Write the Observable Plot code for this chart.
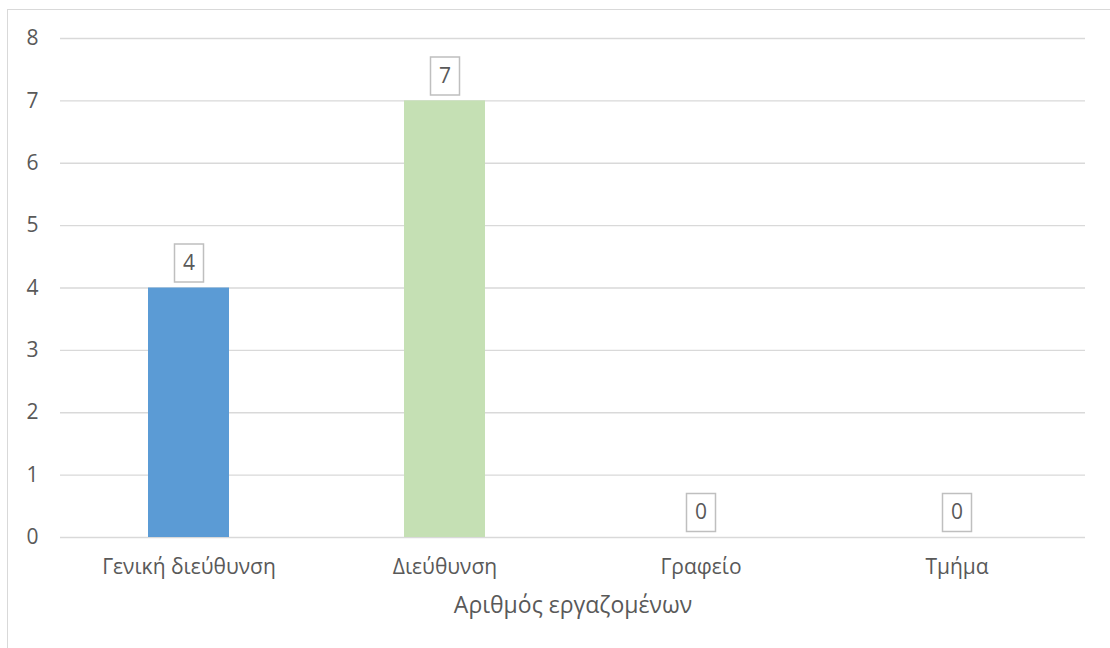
<!DOCTYPE html>
<html>
<head>
<meta charset="utf-8">
<script src="https://cdn.jsdelivr.net/npm/d3@7"></script>
<script src="https://cdn.jsdelivr.net/npm/@observablehq/plot@0.6"></script>
<style>
  html, body { margin: 0; padding: 0; background: #fff; overflow: hidden; }
  #wrap { position: relative; width: 1110px; height: 648px; }
  #frame { position: absolute; left: 7px; top: 9px; width: 1200px; height: 800px; border: 1px solid #d9d9d9; box-sizing: border-box; }
  #chart { position: absolute; left: 0; top: 0; }
</style>
</head>
<body>
<div id="wrap"><div id="frame"></div><div id="chart"></div></div>
<script>
// Employees per organisational level
const categories = ["Γενική διεύθυνση", "Διεύθυνση", "Γραφείο", "Τμήμα"];
const counts = [4, 7, 0, 0];
const barColors = ["#5b9bd5", "#c5e0b4", "#a5a5a5", "#ffc000"];
const yTicks = [0, 1, 2, 3, 4, 5, 6, 7, 8];
const axisTitle = "Αριθμός εργαζομένων";

const data = categories.map((c, i) => ({category: c, value: counts[i], color: barColors[i]}));

// Rectangle outline drawn behind each value label
const labelBox = {
  draw(context) {
    const w = 29, h = 38;
    context.rect(-w / 2, -h / 2, w, h);
  }
};

const textColor = "#595959";
const font = "Open Sans, Noto Sans, sans-serif";

const chart = Plot.plot({
  width: 1110,
  height: 648,
  marginLeft: 60,
  marginRight: 25,
  marginTop: 38,
  marginBottom: 111,
  style: {fontFamily: font, fontSize: "21px", color: textColor, background: "transparent"},
  x: {domain: categories, paddingInner: 0.684, paddingOuter: 0.342},
  y: {domain: [0, 8]},
  marks: [
    Plot.gridY(yTicks, {stroke: "#d9d9d9", strokeOpacity: 1, strokeWidth: 1.3}),
    Plot.barY(data, {x: "category", y: "value", fill: "color"}),
    Plot.dot(data, {x: "category", y: "value", dy: -25, symbol: labelBox, r: 10, fill: "white", stroke: "#bfbfbf", strokeWidth: 1.5}),
    Plot.text(data, {x: "category", y: "value", dy: -25, text: d => String(d.value), fill: textColor, fontSize: 21}),
    Plot.axisY(yTicks, {tickSize: 0, tickPadding: 22, fontSize: 21, fill: textColor, tickFormat: d3.format("d"), label: null}),
    Plot.axisX({tickSize: 0, tickPadding: 22, fontSize: 21, fill: textColor, label: null}),
    Plot.text([axisTitle], {frameAnchor: "bottom", dy: 75, fontSize: 23, fill: textColor})
  ]
});
document.getElementById("chart").appendChild(chart);
</script>
</body>
</html>
